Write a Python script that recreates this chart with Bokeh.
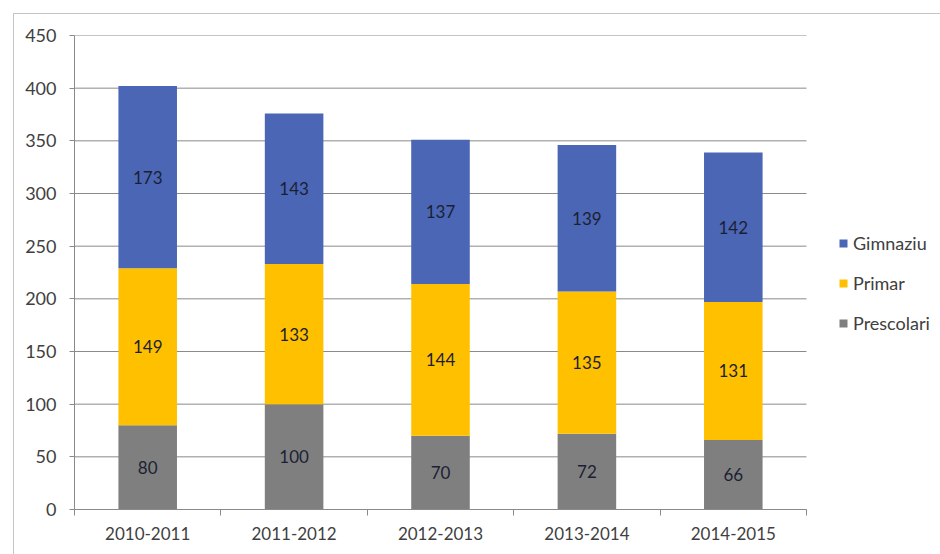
from bokeh.plotting import figure
from bokeh.models import ColumnDataSource, Range1d, FixedTicker, Legend, LegendItem
from bokeh.core.properties import value
from bokeh.embed import file_html
from bokeh.resources import INLINE

# ---- data ----
years = ["2010-2011", "2011-2012", "2012-2013", "2013-2014", "2014-2015"]
prescolari = [80, 100, 70, 72, 66]
primar = [149, 133, 144, 135, 131]
gimnaziu = [173, 143, 137, 139, 142]
series_names = ["Prescolari", "Primar", "Gimnaziu"]
series_colors = ["#7F7F7F", "#FFC000", "#4A66B5"]
y_ticks = [0, 50, 100, 150, 200, 250, 300, 350, 400, 450]

FONT = "Lato"
GRID = "#8a8a8a"

# layout: plot area 732 px wide, extra 135 px on the right for the legend
PLOT_W, EXTRA_W = 732, 135
x_end = len(years) * (PLOT_W + EXTRA_W) / PLOT_W

p = figure(width=927, height=541, output_backend="svg", toolbar_location=None,
           x_range=Range1d(0, x_end), y_range=Range1d(0, 450),
           min_border_left=60, min_border_right=0, min_border_top=21, min_border_bottom=46)
p.margin = (13, 0, 0, 13)
p.styles = {"border-left": "1px solid #c4c4c4", "border-top": "1px solid #c4c4c4"}
p.outline_line_color = None
p.background_fill_color = "white"
p.border_fill_color = "white"

xs = [i + 0.5 for i in range(len(years))]
series = [prescolari, primar, gimnaziu]

# horizontal gridlines limited to the category area
p.segment(x0=[0] * len(y_ticks), x1=[len(years)] * len(y_ticks), y0=y_ticks, y1=y_ticks,
          line_color=GRID, line_width=1)

bottoms = [0] * len(years)
renderers = []
for name, vals, col in zip(series_names, series, series_colors):
    tops = [b + v for b, v in zip(bottoms, vals)]
    mids = [(b + t) / 2 for b, t in zip(bottoms, tops)]
    src = ColumnDataSource(dict(x=xs, bottom=bottoms, top=tops, mid=mids,
                                lab=[str(v) for v in vals]))
    r = p.vbar(x="x", bottom="bottom", top="top", width=0.4, source=src,
               fill_color=col, line_color=None)
    p.text(x="x", y="mid", text="lab", source=src, text_align="center",
           text_baseline="middle", text_font=value(FONT), text_font_size="17px",
           text_color="#1c1f33")
    renderers.append((name, r))
    bottoms = tops

# axes
p.xaxis.bounds = (0, len(years))
p.xaxis.ticker = FixedTicker(ticks=xs, minor_ticks=list(range(len(years) + 1)))
p.xaxis.major_label_overrides = {x: y for x, y in zip(xs, years)}
p.xaxis.major_tick_line_color = None
p.xaxis.major_tick_out = 0
p.xaxis.major_tick_in = 0
p.xaxis.minor_tick_out = 6
p.xaxis.minor_tick_in = 0
p.xaxis.minor_tick_line_color = GRID
p.xaxis.axis_line_color = GRID
p.xaxis.major_label_text_font = FONT
p.xaxis.major_label_text_font_size = "17px"
p.xaxis.major_label_text_color = "#404040"
p.xaxis.major_label_standoff = 11

p.yaxis.ticker = FixedTicker(ticks=y_ticks)
p.yaxis.axis_line_color = GRID
p.yaxis.major_tick_line_color = GRID
p.yaxis.major_tick_out = 5
p.yaxis.major_tick_in = 0
p.yaxis.minor_tick_line_color = None
p.yaxis.major_label_text_font = FONT
p.yaxis.major_label_text_font_size = "18px"
p.yaxis.major_label_text_color = "#404040"
p.yaxis.major_label_standoff = 13

p.xgrid.grid_line_color = None
p.ygrid.grid_line_color = None

items = [LegendItem(label=n, renderers=[r]) for n, r in reversed(renderers)]
legend = Legend(items=items, location=(764, 175), orientation="vertical",
                glyph_width=10, glyph_height=10, label_height=20, spacing=18,
                padding=0, margin=0, border_line_color=None,
                background_fill_alpha=0, label_text_font=FONT,
                label_text_font_size="18px", label_text_color="#404040",
                label_standoff=5)
p.add_layout(legend, "center")

open("out.html", "w").write(file_html(p, INLINE))
